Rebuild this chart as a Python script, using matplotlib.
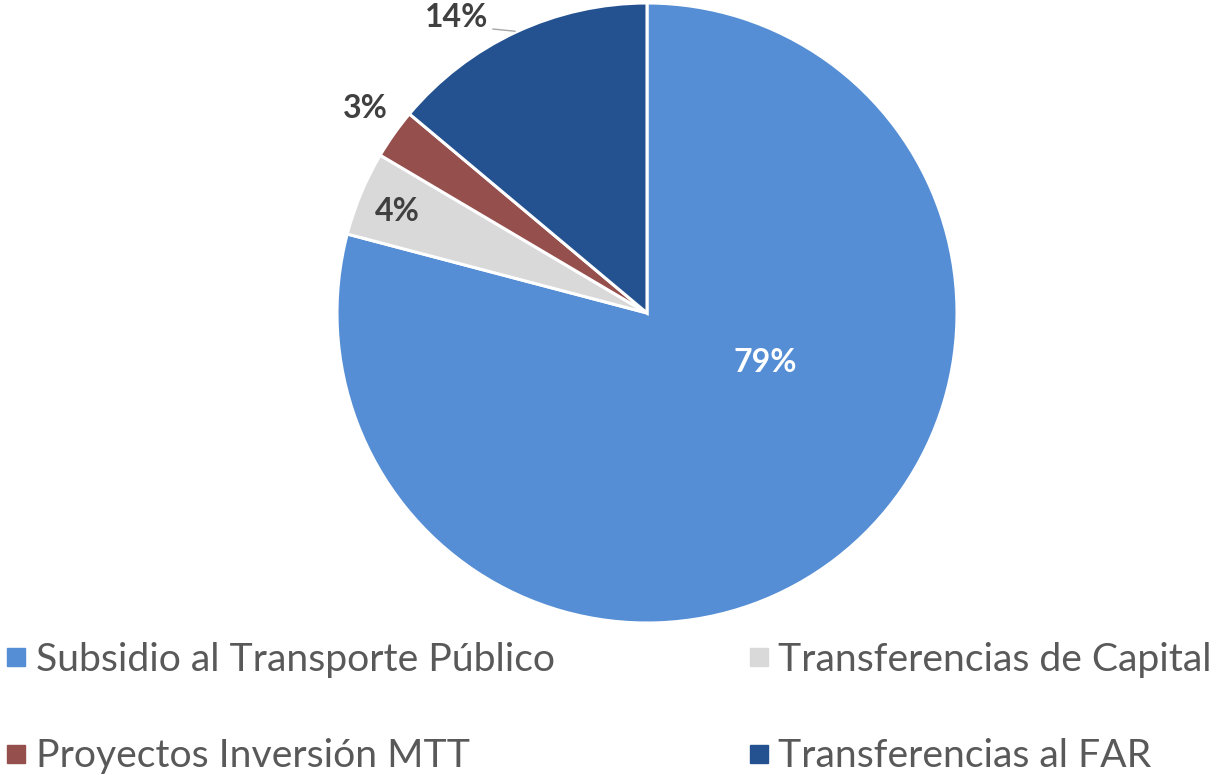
import matplotlib.pyplot as plt
from matplotlib.lines import Line2D

# datos del gráfico
categorias = ['Subsidio al Transporte Público', 'Transferencias de Capital',
              'Proyectos Inversión MTT', 'Transferencias al FAR']
valores = [79.1, 4.4, 2.6, 13.9]
etiquetas = ['79%', '4%', '3%', '14%']
colores = ['#558ED5', '#D9D9D9', '#954F4C', '#245290']
# posiciones de las etiquetas (coordenadas del eje, radio = 1)
pos_etiquetas = [(0.381, -0.161), (-0.806, 0.329), (-0.910, 0.661), (-0.613, 0.952)]
color_etiquetas = ['white', '#404040', '#404040', '#404040']

fig = plt.figure(figsize=(12.23, 7.75), dpi=100)
ax = fig.add_axes([337 / 1223, 152 / 775, 620 / 1223, 620 / 775])

wedges, _ = ax.pie(valores, colors=colores, startangle=90, counterclock=False,
                   radius=1, wedgeprops=dict(edgecolor='white', linewidth=2.2))
ax.set_xlim(-1, 1)
ax.set_ylim(-1, 1)
ax.set_aspect('equal')
ax.axis('off')

for txt, (x, y), c in zip(etiquetas, pos_etiquetas, color_etiquetas):
    ax.text(x, y, txt, ha='center', va='center', color=c, fontsize=23,
            fontweight='bold', family='Lato')

# línea guía de la etiqueta 14%
ax.plot([-0.497, -0.426], [0.916, 0.909], color='#A6A6A6', lw=1)

# leyenda: orden por columnas
orden = [0, 2, 1, 3]
handles = [Line2D([], [], marker='s', ls='', markersize=12.5, color=colores[i])
           for i in orden]
fig.legend(handles, [categorias[i] for i in orden], loc='upper left',
           bbox_to_anchor=(0.0, 0.182), ncol=2, frameon=False,
           prop=dict(family='Lato', size=28.2), labelcolor='#595959',
           handlelength=0.44, handletextpad=0.27, columnspacing=5.0,
           labelspacing=1.55, borderaxespad=0, borderpad=0.2)

fig.savefig('out.png', dpi=100)
